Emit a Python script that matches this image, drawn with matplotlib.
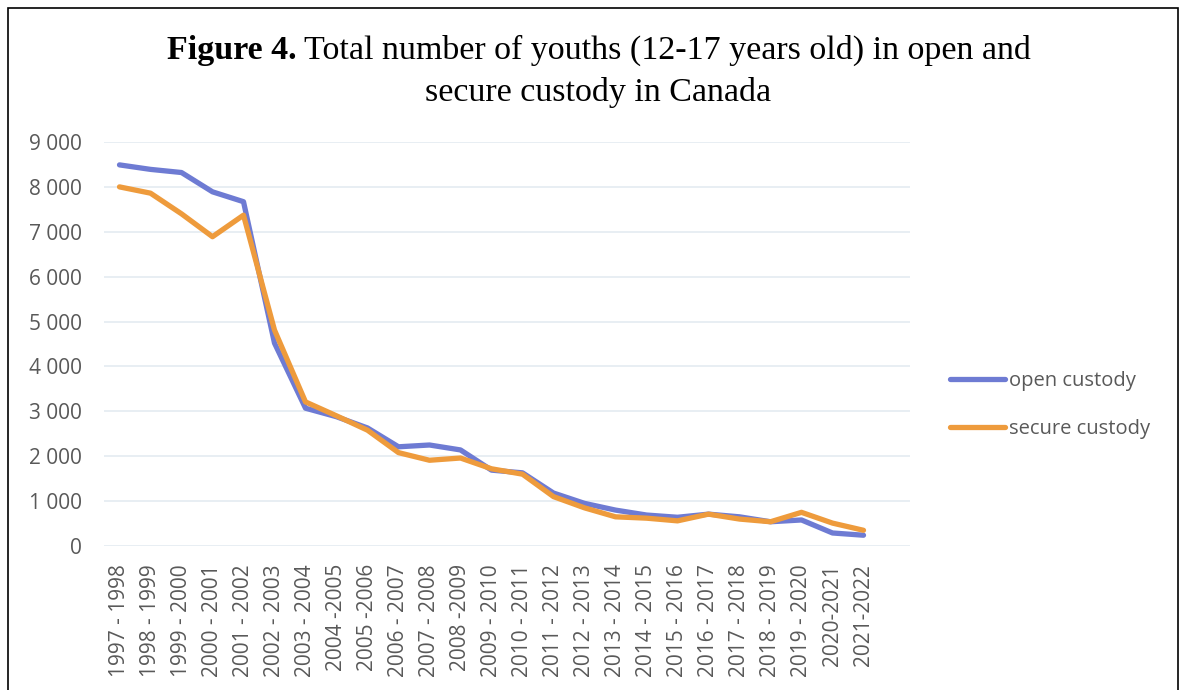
import numpy as np
import matplotlib.pyplot as plt
from matplotlib.patches import Rectangle

# data
years = ['1997 - 1998', '1998 - 1999', '1999 - 2000', '2000 - 2001', '2001 - 2002',
         '2002 - 2003', '2003 - 2004', '2004 -2005', '2005 -2006', '2006 - 2007',
         '2007 - 2008', '2008 -2009', '2009 - 2010', '2010 - 2011', '2011 - 2012',
         '2012 - 2013', '2013 - 2014', '2014 - 2015', '2015 - 2016', '2016 - 2017',
         '2017 - 2018', '2018 - 2019', '2019 - 2020', '2020-2021', '2021-2022']
open_custody = [8490, 8390, 8320, 7890, 7670, 4520, 3070, 2880, 2630, 2210,
                2250, 2140, 1690, 1630, 1180, 950, 800, 690, 640, 710,
                650, 540, 580, 290, 240]
secure_custody = [8000, 7860, 7400, 6890, 7370, 4810, 3210, 2900, 2580, 2080,
                  1910, 1960, 1720, 1600, 1100, 850, 650, 620, 560, 710,
                  600, 540, 750, 510, 350]
yticks = [0, 1000, 2000, 3000, 4000, 5000, 6000, 7000, 8000, 9000]
ytick_labels = ['0', '1 000', '2 000', '3 000', '4 000', '5 000', '6 000', '7 000', '8 000', '9 000']

fig = plt.figure(figsize=(11.84, 6.9), dpi=100)
ax = fig.add_axes([104/1184, 1 - 546/690, (910 - 104)/1184, (546 - 142)/690])

x = np.arange(len(years))
ax.plot(x, open_custody, color='#6E7BD3', lw=3.8, label='open custody', solid_capstyle='round')
ax.plot(x, secure_custody, color='#EE9B3C', lw=3.8, label='secure custody', solid_capstyle='round')

ax.set_xlim(-0.5, 25.5)
ax.set_ylim(0, 9000)
ax.set_yticks(yticks)
ax.set_yticklabels(ytick_labels)
ax.set_xticks(x)
ax.set_xticklabels(years, rotation=90)
ax.tick_params(length=0, labelsize=15, labelcolor='#595959')
ax.tick_params(axis='y', pad=16)
ax.tick_params(axis='x', pad=13)
for lab in ax.get_xticklabels() + ax.get_yticklabels():
    lab.set_family('Open Sans')
ax.grid(axis='y', color='#E4EBF1', lw=1.2)
ax.set_axisbelow(True)
for s in ax.spines.values():
    s.set_visible(False)

fig.legend(loc='center left', bbox_to_anchor=(932/1184, 1 - 405/690), frameon=False,
           handlelength=2.7, labelspacing=1.35, handletextpad=0.2,
           prop={'family': 'Open Sans', 'size': 14.5}, labelcolor='#595959')

# title: bold "Figure 4." followed by regular text
fig.text(297/1184, 1 - 50/690, 'Figure 4.', family='Liberation Serif', weight='bold',
         fontsize=24.5, ha='right', va='center')
fig.text(304/1184, 1 - 50/690, 'Total number of youths (12-17 years old) in open and',
         family='Liberation Serif', fontsize=24.5, ha='left', va='center')
fig.text(598/1184, 1 - 93/690, 'secure custody in Canada',
         family='Liberation Serif', fontsize=24.5, ha='center', va='center')

fig.patches.append(Rectangle((8/1184, -0.01), 1170/1184, 1 - 8/690 + 0.01,
                             transform=fig.transFigure, fill=False, ec='black', lw=1.2))

fig.savefig('out.png', dpi=100)
